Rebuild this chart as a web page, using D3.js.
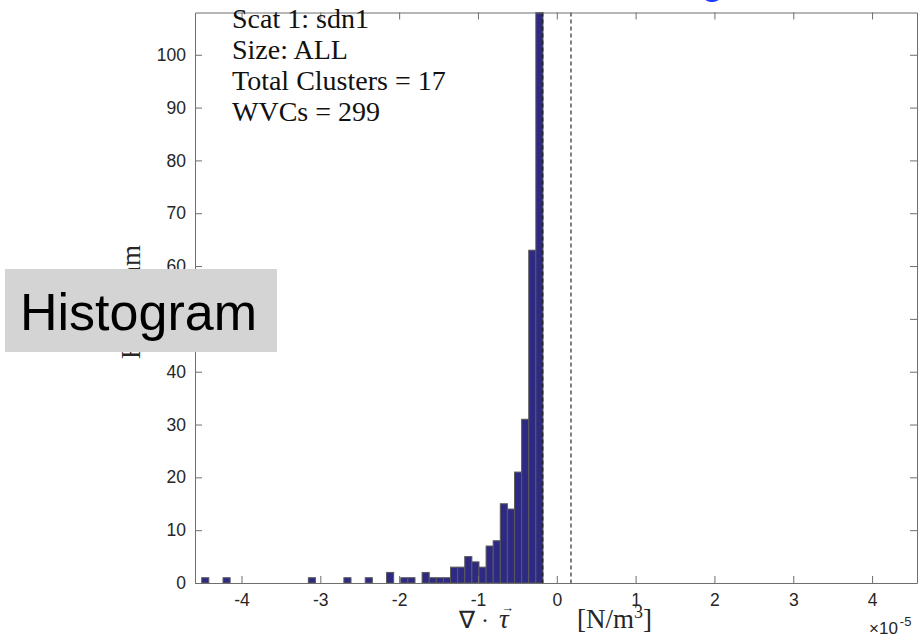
<!DOCTYPE html>
<html>
<head>
<meta charset="utf-8">
<script src="https://cdnjs.cloudflare.com/ajax/libs/d3/7.8.5/d3.min.js"></script>
<style>
  body { margin: 0; background: #fff; }
  svg { display: block; }
</style>
</head>
<body>
<div id="chart"></div>
<script>
// histogram data, values in units of 1e-5 N/m^3
const binStart = -4.505;
const binWidth = 0.0902;
const counts = [1, 0, 0, 1, 0, 0, 0, 0, 0, 0, 0, 0, 0, 0, 0, 1, 0, 0, 0, 0,
                1, 0, 0, 1, 0, 0, 2, 0, 1, 1, 0, 2, 1, 1, 1, 3, 3, 5, 4, 3,
                7, 8, 15, 14, 21, 31, 63, 108];
const dashedLines = [-0.18, 0.18];
const xTicks = [-4, -3, -2, -1, 0, 1, 2, 3, 4];
const yTicks = [0, 10, 20, 30, 40, 50, 60, 70, 80, 90, 100];
const infoLines = ["Scat 1: sdn1", "Size: ALL", "Total Clusters = 17", "WVCs = 299"];

const w = 919;
const h = 643;
const pLeft = 195, pRight = 917, pTop = 12.5, pBottom = 583;
const tickLen = 7;
const axisColor = "#6e6e6e";
const serif = "'Liberation Serif', 'Times New Roman', serif";
const sans = "'Liberation Sans', Arial, sans-serif";

const bins = counts.map((c, i) => ({x0: binStart + i * binWidth, x1: binStart + (i + 1) * binWidth, count: c}));

const xScale = d3.scaleLinear().domain([-4.59, 4.57]).range([pLeft, pRight]);
const yScale = d3.scaleLinear().domain([0, 108]).range([pBottom, pTop]);

const svg = d3.select("#chart")
              .append("svg")
              .attr("width", w)
              .attr("height", h);

// clipped title (only the descender shows in the crop)
svg.append("text")
   .attr("x", 605)
   .attr("y", -7)
   .attr("font-family", sans)
   .attr("font-size", 42)
   .attr("fill", "#1a3cff")
   .text("Histogram");

// bars
svg.append("g")
   .selectAll("rect")
   .data(bins.filter(d => d.count > 0))
   .enter()
   .append("rect")
   .attr("x", d => xScale(d.x0))
   .attr("y", d => yScale(d.count))
   .attr("width", d => xScale(d.x1) - xScale(d.x0))
   .attr("height", d => yScale(0) - yScale(d.count))
   .attr("fill", "#2e2a84")
   .attr("stroke", "#5a5a5a")
   .attr("stroke-width", 1);

// dashed reference lines
svg.append("g")
   .selectAll("line")
   .data(dashedLines)
   .enter()
   .append("line")
   .attr("x1", d => xScale(d))
   .attr("x2", d => xScale(d))
   .attr("y1", pTop)
   .attr("y2", pBottom)
   .attr("stroke", (d, i) => i == 0 ? "#222" : "#555")
   .attr("stroke-width", 1.5)
   .attr("stroke-dasharray", "4,3");

// axes: bottom/left with labels, top/right with ticks only, all ticks inward
const xAxis = d3.axisBottom(xScale).tickValues(xTicks).tickSizeInner(-tickLen).tickSizeOuter(0).tickPadding(11).tickFormat(d => String(d));
const yAxis = d3.axisLeft(yScale).tickValues(yTicks).tickSizeInner(-tickLen).tickSizeOuter(0).tickPadding(9);
const xTop = d3.axisTop(xScale).tickValues(xTicks).tickSizeInner(-tickLen).tickSizeOuter(0).tickFormat("");
const yRight = d3.axisRight(yScale).tickValues(yTicks).tickSizeInner(-tickLen).tickSizeOuter(0).tickFormat("");

const axes = [
  svg.append("g").attr("transform", "translate(0," + pBottom + ")").call(xAxis),
  svg.append("g").attr("transform", "translate(" + pLeft + ",0)").call(yAxis),
  svg.append("g").attr("transform", "translate(0," + pTop + ")").call(xTop),
  svg.append("g").attr("transform", "translate(" + pRight + ",0)").call(yRight)
];
axes.forEach(g => {
  g.select(".domain").attr("stroke", axisColor);
  g.selectAll(".tick line").attr("stroke", axisColor);
  g.selectAll(".tick text").attr("fill", "#262626").attr("font-family", sans).attr("font-size", 17.5);
});

// exponent note
const expText = svg.append("text")
   .attr("x", 869)
   .attr("y", 634)
   .attr("font-family", sans)
   .attr("font-size", 17)
   .attr("fill", "#262626");
expText.append("tspan").text("\u00d710");
expText.append("tspan").attr("dx", 2).attr("dy", -8).attr("font-size", 13).text("-5");

// x label
svg.append("text")
   .attr("x", 459)
   .attr("y", 628)
   .attr("font-family", serif)
   .attr("font-size", 24)
   .attr("fill", "#262626")
   .text("\u2207 \u00b7");
svg.append("text")
   .attr("x", 499)
   .attr("y", 628)
   .attr("font-family", serif)
   .attr("font-style", "italic")
   .attr("font-size", 27)
   .attr("fill", "#262626")
   .text("\u03c4");
svg.append("text")
   .attr("x", 501)
   .attr("y", 612)
   .attr("font-family", serif)
   .attr("font-size", 13)
   .attr("fill", "#262626")
   .text("\u2192");
const unit = svg.append("text")
   .attr("x", 577)
   .attr("y", 628)
   .attr("font-family", serif)
   .attr("font-size", 27)
   .attr("fill", "#262626");
unit.append("tspan").text("[N/m");
unit.append("tspan").attr("dy", -10).attr("font-size", 18).text("3");
unit.append("tspan").attr("dy", 10).text("]");

// y label (mostly hidden behind the overlay box)
svg.append("text")
   .attr("transform", "translate(140,302) rotate(-90)")
   .attr("text-anchor", "middle")
   .attr("font-family", serif)
   .attr("font-size", 27)
   .attr("fill", "#262626")
   .text("Histogram");

// info text in the corner
svg.append("g")
   .selectAll("text")
   .data(infoLines)
   .enter()
   .append("text")
   .attr("x", 232)
   .attr("y", (d, i) => 28 + i * 31)
   .attr("font-family", serif)
   .attr("font-size", 28)
   .attr("fill", "#111")
   .text(d => d);

// overlay label box
svg.append("rect")
   .attr("x", 5)
   .attr("y", 269)
   .attr("width", 272)
   .attr("height", 83)
   .attr("fill", "#d4d4d4");
svg.append("text")
   .attr("x", 20)
   .attr("y", 330)
   .attr("font-family", sans)
   .attr("font-size", 52)
   .attr("fill", "#000")
   .text("Histogram");
</script>
</body>
</html>
